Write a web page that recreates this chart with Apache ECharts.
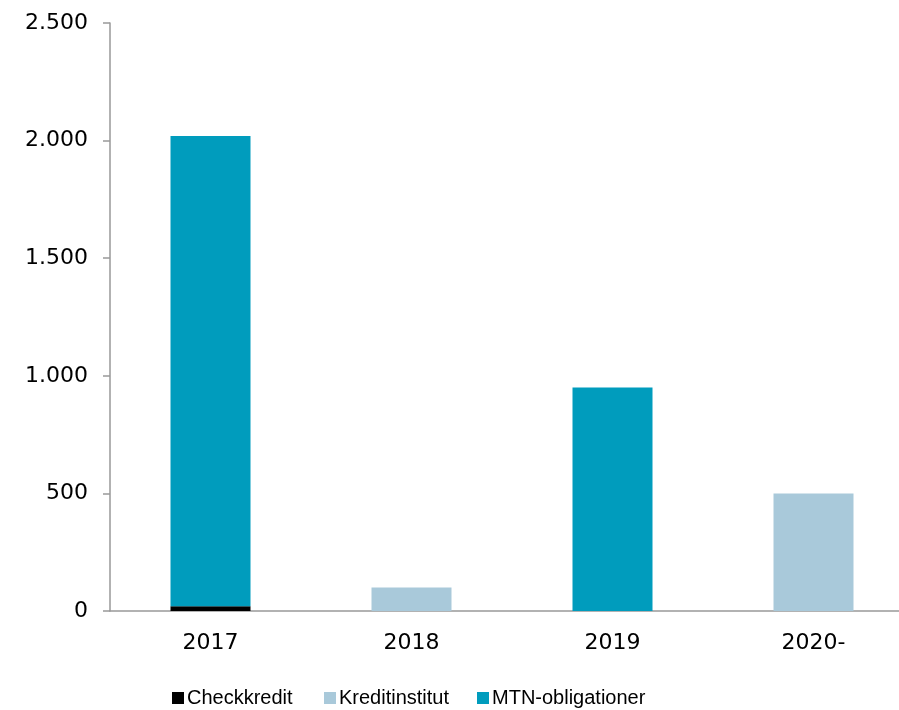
<!DOCTYPE html>
<html>
<head>
<meta charset="utf-8">
<script src="https://cdn.jsdelivr.net/npm/echarts@6/dist/echarts.min.js"></script>
<style>
  html, body { margin: 0; padding: 0; background: #fff; }
  #chart { width: 899px; height: 710px; }
</style>
</head>
<body>
<div id="chart"></div>
<script>
var years = ['2017', '2018', '2019', '2020-'];
var checkkredit = [20, '-', '-', '-'];
var kreditinstitut = ['-', 100, '-', 500];
var mtn = [2000, '-', 950, '-'];

var seriesNames = ['Checkkredit', 'Kreditinstitut', 'MTN-obligationer'];
var legendLeft = [172, 324, 477];

var chart = echarts.init(document.getElementById('chart'));

var labelFont = 'DejaVu Sans, Verdana, sans-serif';

// one legend per item, the reference spaces them unevenly
var legends = seriesNames.map(function (name, i) {
    return {
        left: legendLeft[i],
        top: 688,
        padding: 0,
        icon: 'rect',
        itemWidth: 12,
        itemHeight: 12,
        itemGap: 0,
        textStyle: {
            fontFamily: '"Liberation Sans", Arial, sans-serif',
            fontSize: 20,
            color: '#000',
            padding: [0, 0, 0, -2]
        },
        data: [name]
    };
});

option = {
    animation: false,
    grid: {
        left: 110,
        top: 23,
        right: -15,
        bottom: 99,
        outerBoundsMode: 'none',
        containLabel: false
    },
    legend: legends,
    xAxis: {
        type: 'category',
        data: years,
        axisLine: { lineStyle: { color: '#999', width: 1.5 } },
        axisTick: { length: 8, lineStyle: { color: '#999', width: 1.5 } },
        axisLabel: {
            margin: 21,
            color: '#000',
            fontSize: 22,
            fontFamily: labelFont
        }
    },
    yAxis: {
        type: 'value',
        min: 0,
        max: 2500,
        interval: 500,
        splitLine: { show: false },
        axisLine: { show: true, lineStyle: { color: '#999', width: 1.5 } },
        axisTick: { show: true, length: 7, lineStyle: { color: '#999', width: 1.5 } },
        axisLabel: {
            margin: 22,
            color: '#000',
            fontSize: 22,
            fontFamily: labelFont,
            formatter: function (v) {
                return String(v).replace(/\B(?=(\d{3})+(?!\d))/g, '.');
            }
        }
    },
    series: [
        {
            name: 'Checkkredit',
            type: 'bar',
            stack: 'total',
            barWidth: 80,
            itemStyle: { color: '#000000' },
            data: checkkredit
        },
        {
            name: 'Kreditinstitut',
            type: 'bar',
            stack: 'total',
            barWidth: 80,
            itemStyle: { color: '#A9C9DA' },
            data: kreditinstitut
        },
        {
            name: 'MTN-obligationer',
            type: 'bar',
            stack: 'total',
            barWidth: 80,
            itemStyle: { color: '#009CBD' },
            data: mtn
        }
    ]
};

chart.setOption(option);
</script>
</body>
</html>
